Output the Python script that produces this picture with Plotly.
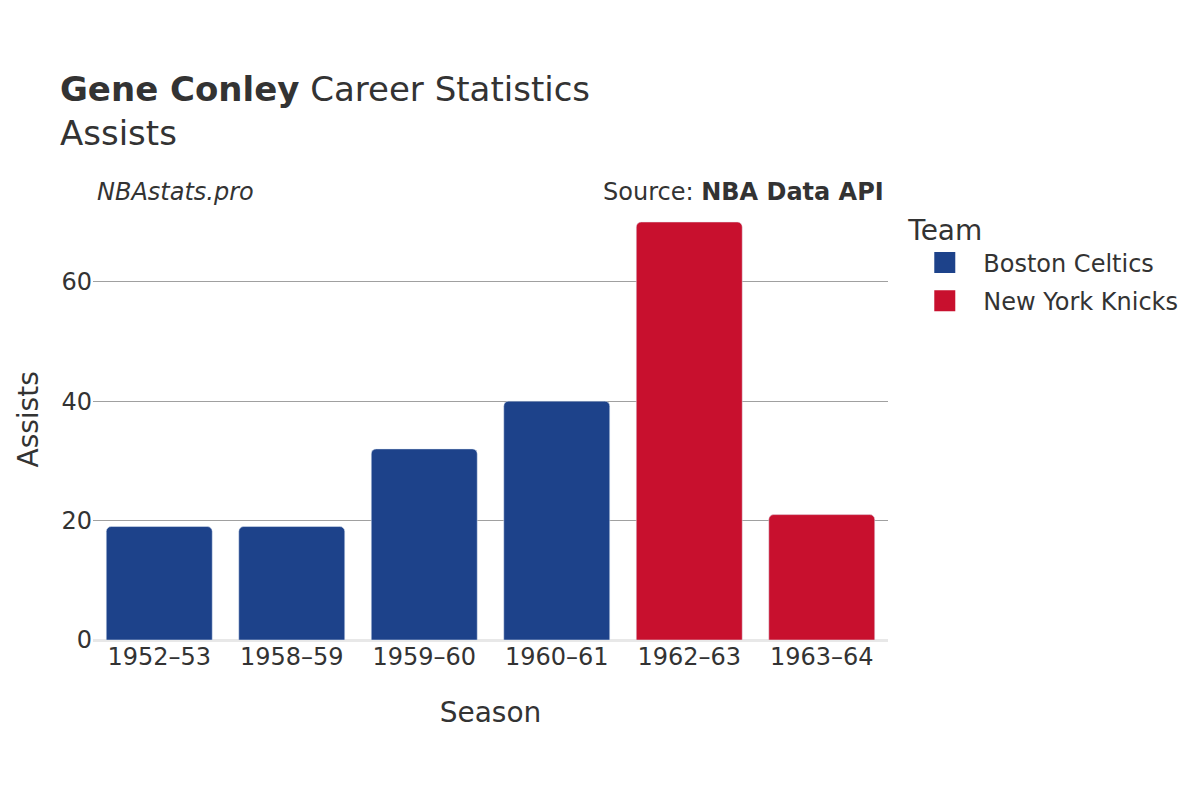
import plotly.graph_objects as go

seasons = ["1952–53", "1958–59", "1959–60", "1960–61", "1962–63", "1963–64"]
teams = ["Boston Celtics", "Boston Celtics", "Boston Celtics", "Boston Celtics", "New York Knicks", "New York Knicks"]
assists = [19, 19, 32, 40, 70, 21]
team_order = ["Boston Celtics", "New York Knicks"]
team_colors = {"Boston Celtics": "#1D428A", "New York Knicks": "#C8102E"}

fig = go.Figure()
for team in team_order:
    xs = [s for s, t in zip(seasons, teams) if t == team]
    ys = [a for a, t in zip(assists, teams) if t == team]
    fig.add_trace(go.Bar(x=xs, y=ys, name=team, marker_color=team_colors[team],
                         legendgroup=team, showlegend=False))
for team in team_order:
    # legend-only entry with a larger swatch
    fig.add_trace(go.Scatter(x=[None], y=[None], mode="markers", name=team, legendgroup=team,
                             marker=dict(symbol="square", size=16, color=team_colors[team],
                                         line=dict(color=team_colors[team], width=6)),
                             hoverinfo="skip"))

font_family = "DejaVu Sans"
fig.update_layout(
    width=1200, height=800,
    barmode="relative", bargap=0.2, barcornerradius=5,
    plot_bgcolor="white", paper_bgcolor="white",
    font=dict(family=font_family, color="#333333", size=24),
    title=dict(text="<b>Gene Conley</b> Career Statistics<br>Assists", x=0.0433, xanchor="left",
               y=0.884, yanchor="top", font=dict(size=34)),
    margin=dict(l=85, r=320, t=192, b=168),
    legend=dict(title=dict(text="Team", font=dict(size=28)), font=dict(size=24),
                x=1.023, y=1.0 - 4 / 440, xanchor="left", yanchor="top", itemsizing="trace",
                traceorder="grouped", tracegroupgap=4, itemwidth=67),
    xaxis=dict(title=dict(text="Season", font=dict(size=28), standoff=32), categoryorder="array",
               categoryarray=seasons, tickfont=dict(size=24), showline=False, automargin=False),
    yaxis=dict(tickfont=dict(size=24),
               gridcolor="#a0a0a0", zeroline=True, zerolinecolor="#e8e8e8", zerolinewidth=3,
               tickvals=[0, 20, 40, 60], automargin=False),
    annotations=[
        dict(text="Assists", xref="paper", yref="paper", x=-84 / 795, y=0.5, textangle=-90,
             xanchor="left", yanchor="middle", showarrow=False, font=dict(size=28)),
        dict(text="<i>NBAstats.pro</i>", xref="paper", yref="paper", x=0.0, y=1.0,
             xanchor="left", yanchor="bottom", showarrow=False, font=dict(size=24), xshift=2, yshift=-8),
        dict(text="Source: <b>NBA Data API</b>", xref="paper", yref="paper", x=1.0, y=1.0,
             xanchor="right", yanchor="bottom", showarrow=False, font=dict(size=24), xshift=-2, yshift=-8),
    ],
)
fig.write_html("out.html")
